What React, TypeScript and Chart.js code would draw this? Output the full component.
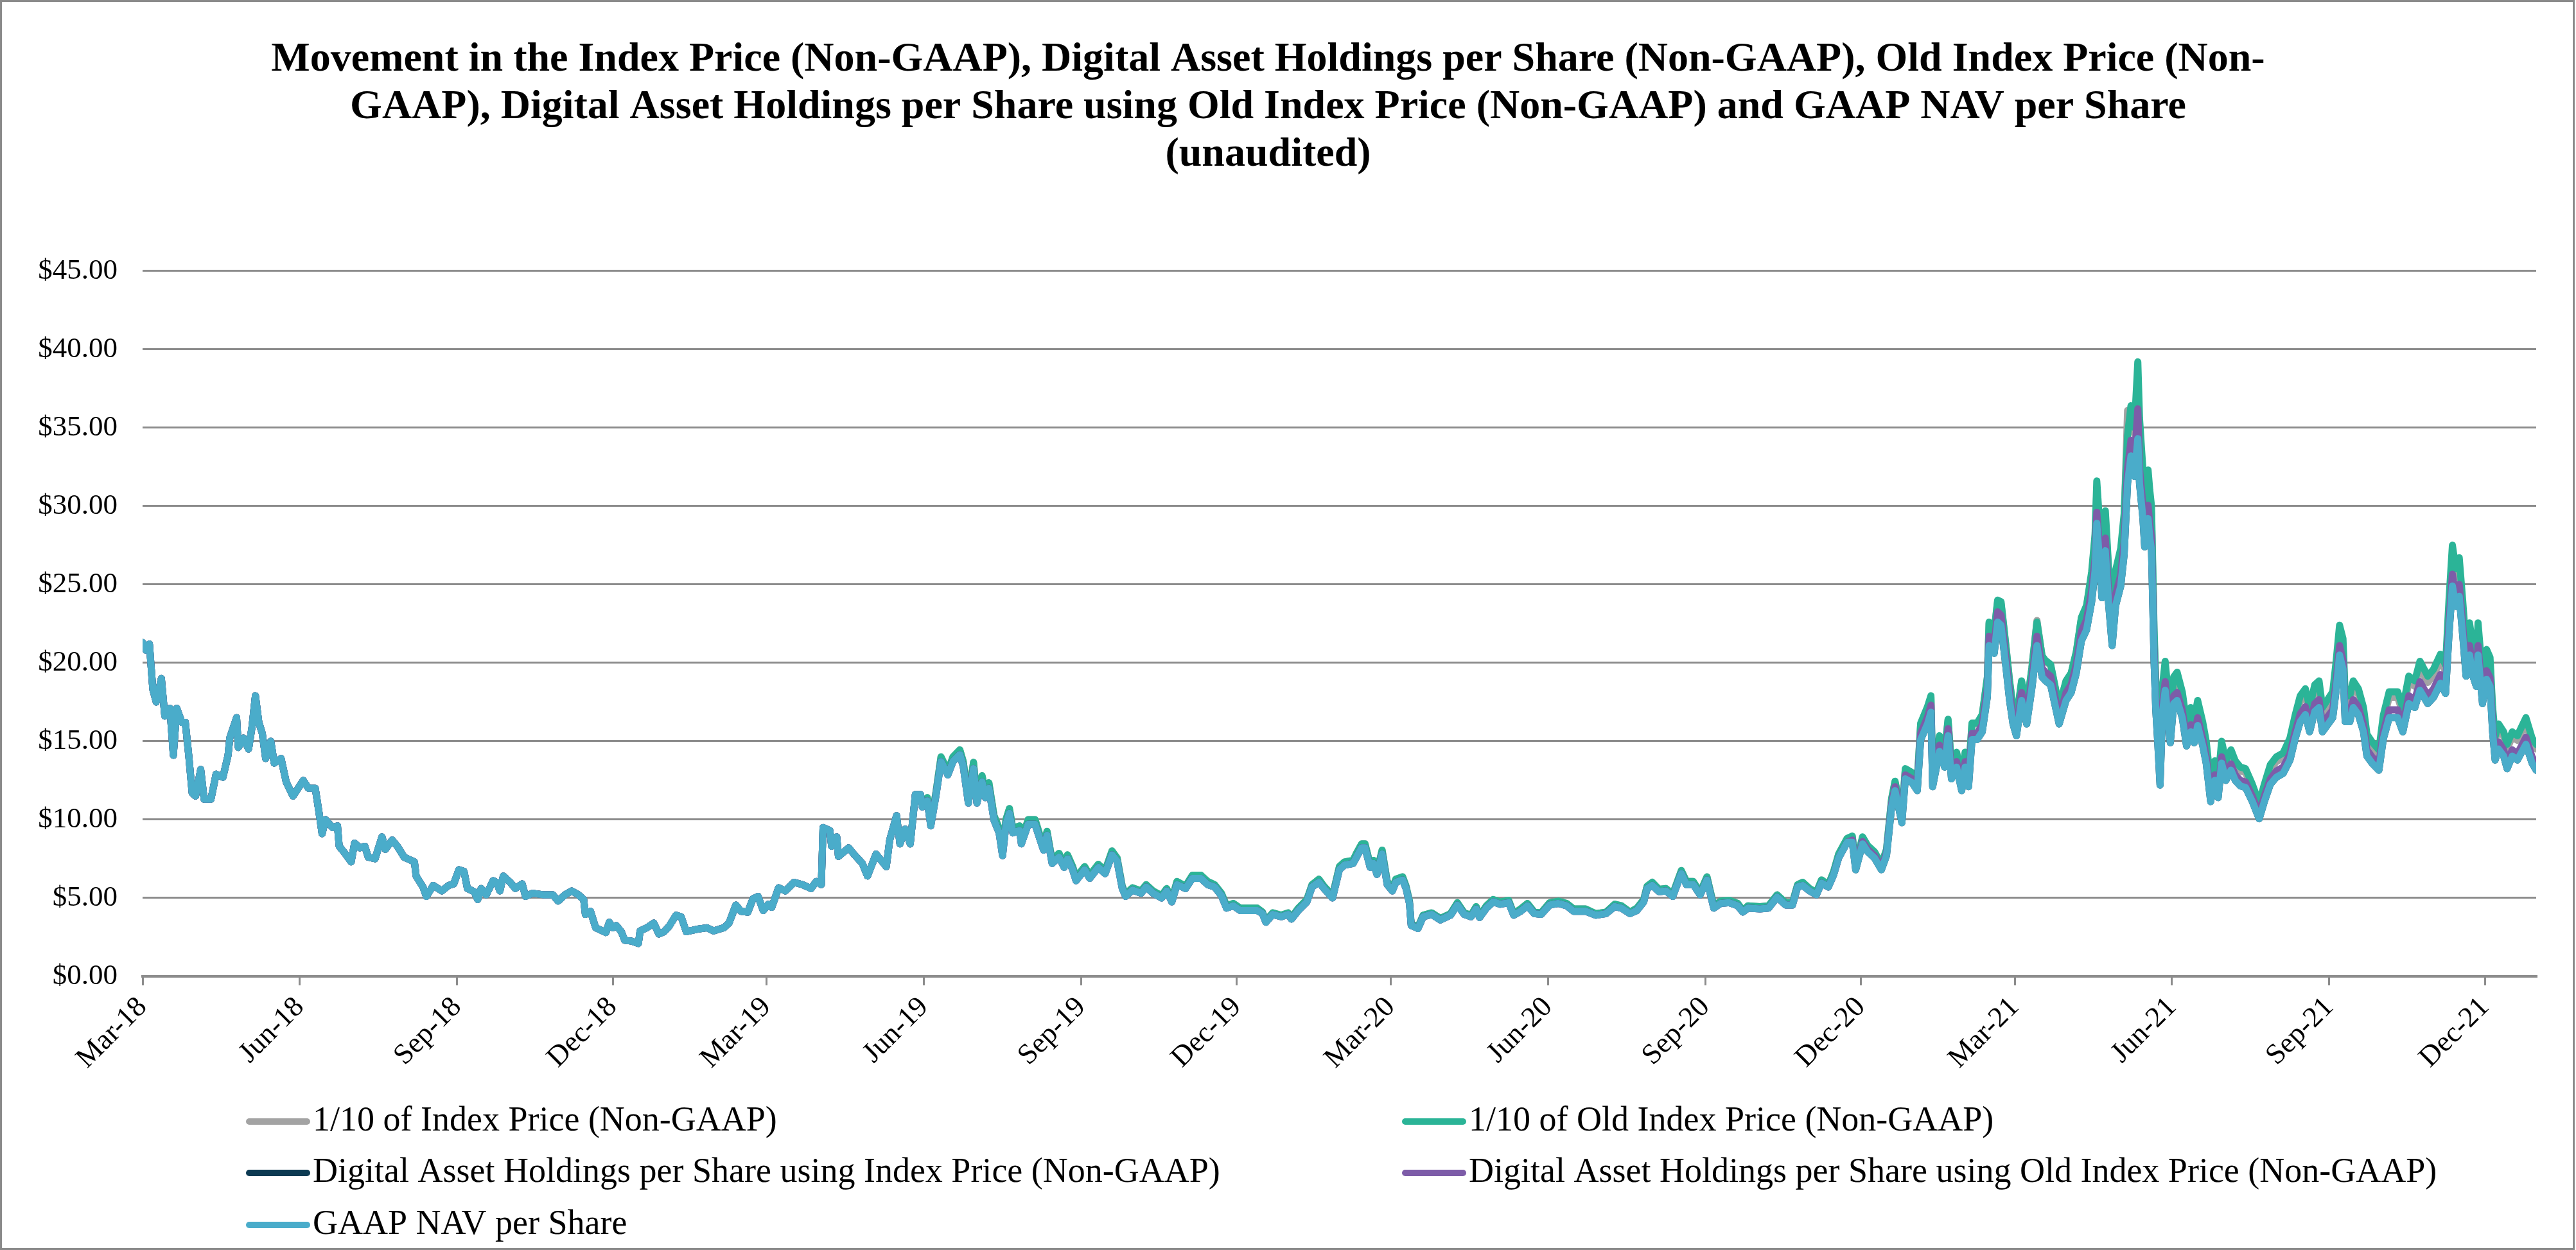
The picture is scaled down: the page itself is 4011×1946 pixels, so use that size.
import React, { useEffect, useRef } from "react";
import { Chart, registerables } from "chart.js";

Chart.register(...registerables);

// x values are day offsets counted from 1 March 2018
// Early period (Mar 2018 - May 2019): all five series coincide
const earlyDays = [
  0, 2, 4, 6, 8, 11, 13, 16, 18, 20,
  23, 25, 27, 29, 31, 34, 36, 40, 43, 47,
  50, 51, 55, 56, 59, 62, 64, 66, 68, 70,
  72, 75, 77, 81, 84, 88, 94, 97, 101, 103,
  105, 107, 111, 114, 115, 118, 122, 124, 127, 130,
  132, 136, 140, 142, 146, 149, 153, 159, 160, 164,
  166, 170, 175, 179, 182, 185, 188, 190, 194, 196,
  198, 201, 205, 207, 209, 211, 215, 218, 222, 224,
  228, 235, 240, 243, 247, 251, 255, 258, 259, 262,
  265, 269, 271, 273, 275, 277, 280, 282, 286, 290,
  291, 295, 299, 302, 305, 308, 312, 315, 318, 324,
  330, 334, 340, 343, 347, 350, 354, 357, 360, 363,
  366, 368, 372, 376, 381, 386, 391, 394, 397, 398,
  402, 403, 406, 407, 413, 416, 421, 424, 429, 435,
  437, 441, 443, 446, 449, 452, 455,
];
const earlyAllSeries = [
  21.3, 20.8, 21.2, 18.3, 17.5, 19.0, 16.6, 17.1, 14.1, 17.1,
  16.2, 16.2, 14.1, 11.7, 11.5, 13.2, 11.3, 11.3, 12.9, 12.7,
  14.1, 15.2, 16.5, 14.6, 15.2, 14.5, 15.9, 17.9, 16.2, 15.5,
  13.9, 15.0, 13.6, 13.9, 12.4, 11.5, 12.5, 12.0, 12.0, 10.6,
  9.1, 10.0, 9.5, 9.6, 8.3, 7.9, 7.3, 8.5, 8.2, 8.3,
  7.6, 7.5, 8.9, 8.1, 8.7, 8.3, 7.6, 7.3, 6.4, 5.7,
  5.1, 5.8, 5.45, 5.8, 5.9, 6.8, 6.7, 5.6, 5.4, 4.9,
  5.6, 5.2, 6.1, 6.0, 5.45, 6.4, 6.0, 5.6, 5.9, 5.1,
  5.3, 5.2, 5.2, 4.8, 5.2, 5.45, 5.2, 4.9, 3.95, 4.15,
  3.1, 2.9, 2.8, 3.45, 3.1, 3.25, 2.85, 2.3, 2.25, 2.1,
  2.9, 3.1, 3.4, 2.7, 2.85, 3.2, 3.9, 3.8, 2.85, 3.0,
  3.1, 2.9, 3.1, 3.4, 4.55, 4.15, 4.1, 4.95, 5.1, 4.2,
  4.6, 4.4, 5.65, 5.45, 6.0, 5.85, 5.6, 6.05, 5.85, 9.5,
  9.3, 8.3, 8.9, 7.65, 8.2, 7.8, 7.2, 6.4, 7.8, 7.0,
  8.7, 10.25, 8.45, 9.4, 8.45, 11.6, 11.6,
];

// Middle period (Jun 2019 - Nov 2020)
const midDays = [
  456, 459, 461, 464, 467, 471, 474, 478, 480, 483,
  486, 488, 491, 493, 495, 498, 501, 503, 505, 507,
  509, 513, 514, 518, 522, 525, 527, 529, 532, 536,
  539, 541, 544, 546, 551, 554, 559, 563, 567, 570,
  573, 575, 579, 584, 587, 591, 596, 599, 602, 605,
  610, 614, 619, 623, 627, 631, 634, 638, 642, 647,
  652, 655, 657, 661, 666, 670, 672, 676, 681, 684,
  688, 691, 696, 700, 703, 708, 710, 713, 715, 718,
  720, 722, 725, 728, 731, 733, 737, 739, 741, 742,
  746, 749, 754, 759, 765, 769, 773, 777, 780, 782,
  786, 790, 794, 799, 802, 806, 810, 814, 818, 823,
  828, 833, 837, 844, 850, 856, 861, 865, 870, 874,
  878, 880, 883, 887, 891, 895, 900, 903, 907, 911,
  915, 919, 923, 928, 933, 936, 939, 946, 951, 956,
  961, 965, 968, 971, 975, 979, 982, 986, 989, 992,
  997,
];
// GAAP NAV and both Digital Asset Holdings per Share series
const midNavValues = [
  10.8, 11.2, 9.6, 11.5, 13.7, 12.85, 13.7, 14.15, 13.4, 11.05,
  13.25, 11.05, 12.4, 11.4, 12.0, 9.95, 9.15, 7.7, 9.7, 10.4,
  9.15, 9.3, 8.45, 9.7, 9.7, 8.7, 8.05, 9.0, 7.2, 7.6,
  6.95, 7.5, 6.8, 6.1, 6.8, 6.25, 6.95, 6.55, 7.75, 7.35,
  5.6, 5.1, 5.5, 5.3, 5.7, 5.3, 5.0, 5.45, 4.75, 5.85,
  5.6, 6.25, 6.25, 5.85, 5.7, 5.15, 4.35, 4.5, 4.2, 4.2,
  4.2, 4.0, 3.45, 3.95, 3.8, 3.95, 3.65, 4.2, 4.75, 5.7,
  6.0, 5.6, 5.0, 6.8, 7.1, 7.2, 7.6, 8.2, 8.2, 6.95,
  7.2, 6.5, 7.8, 5.85, 5.45, 6.0, 6.15, 5.6, 4.65, 3.25,
  3.05, 3.8, 3.95, 3.6, 3.9, 4.55, 3.95, 3.8, 4.3, 3.75,
  4.35, 4.75, 4.6, 4.7, 3.9, 4.15, 4.5, 4.0, 3.95, 4.55,
  4.65, 4.5, 4.15, 4.15, 3.9, 4.0, 4.45, 4.35, 4.0, 4.2,
  4.75, 5.6, 5.8, 5.4, 5.45, 5.1, 6.55, 5.85, 5.85, 5.2,
  6.15, 4.35, 4.65, 4.7, 4.5, 4.1, 4.35, 4.3, 4.35, 5.05,
  4.55, 4.55, 5.7, 5.8, 5.45, 5.2, 5.95, 5.7, 6.45, 7.55,
  8.55,
];
// Both 1/10 index price series
const midIndexValues = [
  11.0, 11.4, 9.8, 11.7, 14.0, 13.1, 14.0, 14.45, 13.7, 11.3,
  13.65, 11.4, 12.8, 11.75, 12.35, 10.25, 9.45, 7.95, 10.0, 10.7,
  9.45, 9.6, 8.7, 10.0, 10.0, 8.95, 8.3, 9.25, 7.4, 7.85,
  7.15, 7.75, 7.0, 6.3, 7.0, 6.45, 7.15, 6.75, 8.0, 7.55,
  5.75, 5.25, 5.65, 5.45, 5.85, 5.45, 5.15, 5.6, 4.9, 6.05,
  5.75, 6.45, 6.45, 6.05, 5.85, 5.3, 4.5, 4.65, 4.35, 4.35,
  4.35, 4.1, 3.55, 4.05, 3.9, 4.05, 3.75, 4.35, 4.9, 5.85,
  6.2, 5.75, 5.15, 7.0, 7.3, 7.4, 7.85, 8.45, 8.45, 7.15,
  7.4, 6.7, 8.05, 6.05, 5.6, 6.2, 6.35, 5.75, 4.8, 3.35,
  3.15, 3.9, 4.05, 3.7, 4.0, 4.7, 4.05, 3.9, 4.45, 3.85,
  4.5, 4.9, 4.75, 4.85, 4.0, 4.3, 4.65, 4.1, 4.05, 4.7,
  4.8, 4.65, 4.3, 4.3, 4.0, 4.1, 4.6, 4.5, 4.1, 4.35,
  4.9, 5.75, 6.0, 5.55, 5.6, 5.25, 6.75, 6.05, 6.05, 5.35,
  6.35, 4.5, 4.8, 4.85, 4.65, 4.2, 4.5, 4.45, 4.5, 5.2,
  4.7, 4.7, 5.85, 6.0, 5.6, 5.35, 6.15, 5.85, 6.65, 7.8,
  8.8,
];

// Late period (Nov 2020 - Dec 2021)
const lateDays = [
  1000, 1002, 1006, 1009, 1013, 1017, 1020, 1023, 1025, 1029, 1031, 1035, 1038,
  1040, 1044, 1046, 1047, 1051, 1054, 1056, 1058, 1061, 1064,
  1066, 1068, 1070, 1073, 1076, 1079, 1080, 1083, 1085, 1087,
  1090, 1092, 1094, 1096, 1099, 1102, 1105, 1108, 1111, 1113,
  1116, 1121, 1125, 1128, 1131, 1134, 1137,
  1140, 1142, 1143, 1145, 1146, 1148, 1150, 1152, 1154, 1157,
  1159, 1161, 1163, 1165, 1167, 1168, 1170, 1171, 1173, 1174,
  1175, 1176.5, 1177.5, 1178.5, 1180, 1181.5, 1183, 1184.3, 1186, 1188,
  1190, 1193, 1195.5, 1198, 1200, 1202, 1205, 1207, 1209.6, 1212,
  1214, 1216, 1218.5, 1221.5, 1224, 1227, 1230, 1234, 1238, 1241,
  1244.5, 1248, 1252, 1256, 1259, 1262, 1265, 1267.5, 1270.5, 1273,
  1275, 1278, 1281, 1283, 1285, 1287, 1288.3, 1291, 1293, 1296,
  1299, 1301, 1304, 1308, 1310.6, 1314, 1319, 1322, 1325.5, 1329,
  1332, 1336.6, 1340, 1344, 1347, 1349, 1351, 1353, 1355, 1357,
  1359, 1361, 1363, 1365, 1366, 1368.6, 1371, 1373, 1374.5, 1376,
  1378, 1381, 1383, 1386, 1389, 1394, 1397.6, 1400,
];
// GAAP NAV per Share and Digital Asset Holdings per Share using Index Price
const lateNavValues = [
  8.55, 6.8, 8.45, 7.95, 7.55, 6.8, 7.7, 10.8, 11.85, 9.8, 12.6, 12.35, 11.85,
  15.1, 16.1, 16.85, 12.1, 14.35, 13.35, 15.35, 12.6, 13.35, 11.85,
  13.35, 12.1, 15.1, 15.1, 15.6, 17.85, 21.1, 20.6, 22.6, 22.4,
  19.6, 17.6, 16.1, 15.35, 17.6, 16.1, 18.35, 21.1, 19.1, 18.85,
  18.6, 16.1, 17.6, 18.1, 19.35, 21.4, 22.1,
  23.9, 25.9, 28.9, 25.9, 24.15, 27.15, 23.65, 21.1, 23.65, 24.9,
  26.9, 31.45, 33.2, 31.9, 34.3, 31.45, 29.2, 27.4, 29.2, 28.0,
  27.2, 20.1, 17.0, 15.2, 12.2, 16.9, 18.25, 16.9, 14.9, 17.4,
  17.6, 16.5, 14.7, 15.6, 14.9, 16.0, 14.7, 13.6, 11.15, 12.5,
  11.4, 13.6, 12.5, 13.15, 12.5, 12.15, 12.05, 11.15, 10.05, 11.15,
  12.25, 12.7, 12.95, 13.8, 15.15, 16.25, 16.7, 15.6, 16.9, 17.15,
  15.6, 16.05, 16.5, 18.25, 20.5, 19.6, 16.25, 16.25, 17.15, 16.7,
  15.6, 14.05, 13.6, 13.15, 15.15, 16.5, 16.5, 15.6, 17.4, 17.15,
  18.25, 17.4, 17.8, 18.7, 18.05, 21.8, 24.9, 23.6, 24.25, 21.8,
  19.15, 20.5, 19.15, 18.5, 20.5, 17.4, 18.95, 18.5, 15.6, 13.8,
  14.5, 14.05, 13.25, 14.05, 13.8, 14.8, 13.6, 13.15,
];
// Digital Asset Holdings per Share using Old Index Price
const lateDahOldValues = [
  8.7, 6.95, 8.6, 8.1, 7.7, 6.95, 7.85, 11.0, 12.1, 10.0, 12.85, 12.6, 12.1,
  15.5, 16.55, 17.3, 12.45, 14.75, 13.7, 15.8, 12.95, 13.7, 12.2,
  13.7, 12.45, 15.5, 15.5, 16.05, 18.35, 21.7, 21.2, 23.25, 23.05,
  20.15, 18.1, 16.55, 15.8, 18.1, 16.55, 18.9, 21.7, 19.65, 19.4,
  19.15, 16.55, 18.1, 18.6, 19.9, 22.0, 22.75,
  24.6, 26.65, 29.6, 26.65, 24.85, 27.95, 24.35, 21.7, 24.35, 25.6,
  27.7, 32.4, 34.2, 32.85, 36.2, 32.4, 30.05, 28.2, 30.05, 28.85,
  28.0, 20.7, 17.5, 15.65, 12.55, 17.4, 18.8, 17.4, 15.35, 17.9,
  18.1, 17.0, 15.15, 16.05, 15.35, 16.5, 15.15, 14.0, 11.5, 12.85,
  11.75, 14.0, 12.85, 13.55, 12.85, 12.5, 12.4, 11.5, 10.35, 11.5,
  12.6, 13.1, 13.35, 14.2, 15.6, 16.75, 17.2, 16.05, 17.4, 17.65,
  16.05, 16.55, 17.0, 18.8, 21.1, 20.2, 16.75, 16.75, 17.65, 17.2,
  16.05, 14.45, 14.0, 13.55, 15.6, 17.0, 17.0, 16.05, 17.9, 17.65,
  18.8, 17.9, 18.35, 19.25, 18.6, 22.45, 25.65, 24.3, 25.0, 22.45,
  19.7, 21.1, 19.7, 19.05, 21.1, 17.9, 19.5, 19.05, 16.05, 14.2,
  14.95, 14.45, 13.65, 14.45, 14.2, 15.25, 14.0, 13.55,
];
// 1/10 of Index Price
const lateIndexValues = [
  8.9, 7.1, 8.85, 8.3, 7.9, 7.1, 8.05, 11.3, 12.4, 10.25, 13.2, 12.95, 12.4,
  16.1, 17.15, 17.8, 12.9, 15.3, 14.25, 16.35, 13.45, 14.25, 12.65,
  14.25, 12.9, 16.1, 16.1, 16.65, 19.05, 22.5, 22.0, 23.9, 23.8,
  20.9, 18.8, 17.15, 16.35, 18.8, 17.15, 19.6, 22.7, 20.4, 20.1,
  19.85, 17.15, 18.8, 19.3, 20.65, 22.85, 23.6,
  25.6, 28.0, 31.0, 28.0, 26.1, 29.3, 25.6, 22.8, 25.6, 27.0,
  29.2, 36.1, 35.8, 34.6, 36.5, 34.8, 31.6, 29.6, 31.6, 30.4,
  29.5, 21.8, 18.4, 16.5, 13.2, 18.2, 19.7, 18.2, 16.1, 18.7,
  19.0, 17.8, 15.9, 16.8, 16.1, 17.25, 15.9, 14.7, 12.05, 13.5,
  12.3, 14.7, 13.5, 14.2, 13.5, 13.1, 13.0, 12.0, 10.85, 12.0,
  13.2, 13.7, 13.95, 14.9, 16.3, 17.55, 18.0, 16.8, 18.2, 18.5,
  16.8, 17.3, 17.8, 19.7, 22.0, 21.1, 17.55, 17.55, 18.5, 18.0,
  16.8, 15.15, 14.65, 14.15, 16.3, 17.8, 17.8, 16.8, 18.75, 18.5,
  19.7, 18.75, 19.2, 20.15, 19.45, 23.5, 27.0, 25.5, 26.2, 23.5,
  20.65, 22.1, 20.65, 19.95, 22.1, 18.75, 20.45, 19.95, 16.85, 15.0,
  15.8, 15.3, 14.5, 15.3, 15.05, 16.15, 14.9, 14.5,
];
// 1/10 of Old Index Price
const lateOldIndexValues = [
  8.95, 7.15, 8.9, 8.35, 7.95, 7.15, 8.1, 11.35, 12.45, 10.3, 13.25, 13.0, 12.45,
  16.15, 17.2, 17.9, 12.95, 15.35, 14.3, 16.4, 13.5, 14.3, 12.7,
  14.3, 12.95, 16.15, 16.15, 16.7, 19.1, 22.6, 22.05, 24.0, 23.9,
  20.95, 18.85, 17.2, 16.4, 18.85, 17.2, 19.65, 22.6, 20.45, 20.15,
  19.9, 17.2, 18.85, 19.35, 20.7, 22.9, 23.65,
  25.8, 28.2, 31.6, 28.3, 26.4, 29.7, 25.9, 23.1, 25.9, 27.3,
  29.5, 34.5, 36.4, 35.0, 39.2, 35.6, 32.3, 30.2, 32.3, 31.0,
  30.0, 22.2, 18.8, 16.8, 13.5, 18.6, 20.1, 18.6, 16.4, 19.1,
  19.4, 18.15, 16.2, 17.15, 16.4, 17.6, 16.2, 15.0, 12.3, 13.75,
  12.55, 15.0, 13.75, 14.45, 13.75, 13.35, 13.25, 12.25, 11.05, 12.25,
  13.5, 14.0, 14.25, 15.2, 16.65, 17.9, 18.35, 17.15, 18.6, 18.85,
  17.15, 17.65, 18.15, 20.1, 22.4, 21.55, 17.9, 17.9, 18.85, 18.35,
  17.15, 15.45, 14.95, 14.45, 16.65, 18.15, 18.15, 17.15, 19.15, 18.85,
  20.1, 19.15, 19.6, 20.55, 19.85, 24.0, 27.5, 26.0, 26.7, 24.0,
  21.05, 22.55, 21.05, 20.35, 22.55, 19.15, 20.85, 20.35, 17.2, 15.3,
  16.1, 15.6, 14.8, 15.6, 15.35, 16.5, 15.2, 14.8,
];

const tickDays = [0, 92, 184, 275, 365, 457, 549, 640, 730, 822, 914, 1005, 1095, 1187, 1279, 1370];
const tickLabels = [
  "Mar-18", "Jun-18", "Sep-18", "Dec-18", "Mar-19", "Jun-19", "Sep-19", "Dec-19",
  "Mar-20", "Jun-20", "Sep-20", "Dec-20", "Mar-21", "Jun-21", "Sep-21", "Dec-21",
];
const xMaxDay = 1400;
const yMin = 0;
const yMax = 45;
const yStep = 5;

const seriesLabels = [
  "1/10 of Index Price (Non-GAAP)",
  "1/10 of Old Index Price (Non-GAAP)",
  "Digital Asset Holdings per Share using Index Price (Non-GAAP)",
  "Digital Asset Holdings per Share using Old Index Price (Non-GAAP)",
  "GAAP NAV per Share",
];
const seriesColors = ["#A3A3A3", "#2BB497", "#0C3A52", "#7D5CA8", "#4AACCA"];

const titleLines = [
  "Movement in the Index Price (Non-GAAP), Digital Asset Holdings per Share (Non-GAAP), Old Index Price (Non-",
  "GAAP), Digital Asset Holdings per Share using Old Index Price (Non-GAAP) and GAAP NAV per Share",
  "(unaudited)",
];

const FONT = '"Liberation Serif", "Times New Roman", serif';
const GRID = "#8C8C8C";

const allDays = [...earlyDays, ...midDays, ...lateDays];
const toPoints = (vals: number[]) => vals.map((y, i) => ({ x: allDays[i], y }));

const seriesValues = [
  [...earlyAllSeries, ...midIndexValues, ...lateIndexValues],
  [...earlyAllSeries, ...midIndexValues, ...lateOldIndexValues],
  [...earlyAllSeries, ...midNavValues, ...lateNavValues],
  [...earlyAllSeries, ...midNavValues, ...lateDahOldValues],
  [...earlyAllSeries, ...midNavValues, ...lateNavValues],
];
const drawOrder = [4, 3, 2, 1, 0];

const framePlugin = {
  id: "frame",
  beforeDraw(chart: any) {
    const ctx = chart.ctx;
    ctx.save();
    ctx.fillStyle = "#FFFFFF";
    ctx.fillRect(0, 0, chart.width, chart.height);
    ctx.restore();
  },
  afterDraw(chart: any) {
    const ctx = chart.ctx;
    ctx.save();
    ctx.strokeStyle = "#8A8A8A";
    ctx.lineWidth = 3;
    ctx.strokeRect(1.5, 1.5, chart.width - 5, chart.height - 3);
    ctx.restore();
  },
};

const gridLegendPlugin = {
  id: "gridLegend",
  afterDraw(chart: any) {
    const ctx = chart.ctx;
    const cols = [383, 2183];
    const rows = [1746, 1826, 1907];
    ctx.save();
    ctx.font = `54px ${FONT}`;
    ctx.textBaseline = "middle";
    ctx.textAlign = "left";
    chart.data.datasets.forEach((ds: any, i: number) => {
      const x = cols[i % 2];
      const y = rows[Math.floor(i / 2)];
      ctx.strokeStyle = ds.borderColor;
      ctx.lineWidth = 10;
      ctx.lineCap = "round";
      ctx.beginPath();
      ctx.moveTo(x + 5, y);
      ctx.lineTo(x + 95, y);
      ctx.stroke();
      ctx.fillStyle = "#000000";
      ctx.fillText(ds.label, x + 104, y);
    });
    ctx.restore();
  },
};

export default function App() {
  const canvasRef = useRef<HTMLCanvasElement | null>(null);

  useEffect(() => {
    const canvas = canvasRef.current;
    if (!canvas) return;
    const chart = new Chart(canvas, {
      type: "line",
      data: {
        datasets: seriesLabels.map((label, i) => ({
          label,
          data: toPoints(seriesValues[i]),
          borderColor: seriesColors[i],
          backgroundColor: seriesColors[i],
          borderWidth: 11,
          pointRadius: 0,
          pointHoverRadius: 0,
          tension: 0,
          fill: false,
          borderJoinStyle: "round" as const,
          borderCapStyle: "round" as const,
          order: drawOrder[i],
        })),
      },
      options: {
        animation: false,
        responsive: false,
        maintainAspectRatio: false,
        devicePixelRatio: 1,
        layout: { padding: { top: 0, left: 0, right: 62, bottom: 226 } },
        plugins: {
          legend: { display: false },
          tooltip: { enabled: false },
          title: {
            display: true,
            text: titleLines,
            color: "#000000",
            font: { family: FONT, size: 64, weight: "bold", lineHeight: 1.16 },
            padding: { top: 56, bottom: 143 },
          },
        },
        scales: {
          x: {
            type: "linear",
            min: 0,
            max: xMaxDay,
            afterBuildTicks: (scale: any) => {
              scale.ticks = tickDays.map((v) => ({ value: v }));
            },
            afterFit: (scale: any) => {
              scale.height = 200;
            },
            ticks: {
              autoSkip: false,
              maxRotation: 45,
              minRotation: 45,
              padding: 8,
              color: "#000000",
              font: { family: FONT, size: 45 },
              callback: (_v: any, index: number) => tickLabels[index],
            },
            grid: {
              display: true,
              drawOnChartArea: false,
              drawTicks: true,
              tickLength: 14,
              color: GRID,
              lineWidth: 3,
            },
            border: { display: true, color: GRID, width: 4 },
          },
          y: {
            type: "linear",
            min: yMin,
            max: yMax,
            afterFit: (scale: any) => {
              scale.width = 222;
            },
            ticks: {
              stepSize: yStep,
              padding: 39,
              color: "#000000",
              font: { family: FONT, size: 45 },
              callback: (v: any) => "$" + Number(v).toFixed(2),
            },
            grid: { color: GRID, lineWidth: 3, drawTicks: false },
            border: { display: false },
          },
        },
      },
      plugins: [framePlugin, gridLegendPlugin],
    });
    return () => chart.destroy();
  }, []);

  return (
    <div style={{ position: "fixed", left: 0, top: 0, width: 4011, height: 1946, background: "#fff" }}>
      <canvas ref={canvasRef} width={4011} height={1946} style={{ width: 4011, height: 1946, display: "block" }} />
    </div>
  );
}
